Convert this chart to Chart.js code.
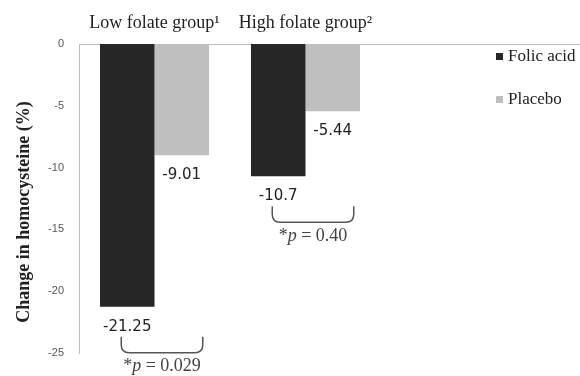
<!DOCTYPE html>
<html>
<head>
<meta charset="utf-8">
<script src="https://cdn.jsdelivr.net/npm/chart.js@4/dist/chart.umd.min.js"></script>
<style>
  html, body { margin: 0; padding: 0; background: #fff; }
  #wrap { width: 580px; height: 376px; }
</style>
</head>
<body>
<div id="wrap"><canvas id="homocysteineChart"></canvas></div>
<script>
const categories = ["Low folate group\u00b9", "High folate group\u00b2"];
const folicAcid = [-21.25, -10.7];
const placebo = [-9.01, -5.44];
const pValues = ["0.029", "0.40"];
const seriesNames = ["Folic acid", "Placebo"];

const serif = "'Liberation Serif', 'Times New Roman', serif";

// value labels, p-value brackets, legend, axis title
const annotate = {
  id: "annotate",
  afterDatasetsDraw(chart) {
    const ctx = chart.ctx;
    const area = chart.chartArea;
    ctx.save();

    // zero line runs on to the right edge
    ctx.strokeStyle = "#bfbfbf";
    ctx.lineWidth = 1;
    ctx.beginPath();
    ctx.moveTo(area.right, area.top + 0.5);
    ctx.lineTo(chart.width, area.top + 0.5);
    ctx.stroke();

    // values under each bar
    ctx.font = "15px 'DejaVu Sans', sans-serif";
    ctx.fillStyle = "#222";
    ctx.textAlign = "center";
    ctx.textBaseline = "middle";
    chart.data.datasets.forEach((ds, di) => {
      chart.getDatasetMeta(di).data.forEach((bar, i) => {
        ctx.fillText(String(ds.data[i]), bar.x, bar.y + 20);
      });
    });

    // brackets with p values
    const fa = chart.getDatasetMeta(0).data;
    const pl = chart.getDatasetMeta(1).data;
    fa.forEach((bar, i) => {
      const left = bar.x - 6;
      const right = pl[i].x + 21;
      const top = bar.y + 30;
      const bottom = top + 16;
      ctx.strokeStyle = "#555";
      ctx.lineWidth = 1.5;
      ctx.beginPath();
      ctx.moveTo(left, top);
      ctx.lineTo(left, bottom - 8);
      ctx.quadraticCurveTo(left, bottom, left + 8, bottom);
      ctx.lineTo(right - 8, bottom);
      ctx.quadraticCurveTo(right, bottom, right, bottom - 8);
      ctx.lineTo(right, top);
      ctx.stroke();

      const parts = [
        ["*", "18px " + serif],
        ["p", "italic 18px " + serif],
        [" = " + pValues[i], "18px " + serif],
      ];
      let total = 0;
      parts.forEach(([t, f]) => { ctx.font = f; total += ctx.measureText(t).width; });
      let x = (left + right) / 2 - total / 2;
      ctx.fillStyle = "#444";
      ctx.textAlign = "left";
      parts.forEach(([t, f]) => {
        ctx.font = f;
        ctx.fillText(t, x, bottom + 14);
        x += ctx.measureText(t).width;
      });
    });

    // legend
    const legendY = [57, 100];
    ctx.font = "17px " + serif;
    ctx.textAlign = "left";
    ctx.textBaseline = "middle";
    chart.data.datasets.forEach((ds, di) => {
      ctx.fillStyle = ds.backgroundColor;
      ctx.fillRect(496, legendY[di] - 4, 7, 7);
      ctx.fillStyle = "#222";
      ctx.fillText(ds.label, 508, legendY[di]);
    });

    // y axis title
    ctx.translate(24, 212);
    ctx.rotate(-Math.PI / 2);
    ctx.font = "bold 18px " + serif;
    ctx.textAlign = "center";
    ctx.fillStyle = "#222";
    ctx.fillText("Change in homocysteine (%)", 0, 0);

    ctx.restore();
  },
};

new Chart(document.getElementById("homocysteineChart"), {
  type: "bar",
  data: {
    labels: categories,
    datasets: [
      { label: seriesNames[0], data: folicAcid, backgroundColor: "#262626" },
      { label: seriesNames[1], data: placebo, backgroundColor: "#bfbfbf" },
    ],
  },
  options: {
    responsive: true,
    maintainAspectRatio: false,
    animation: false,
    layout: { padding: { left: 0, right: 199, top: 0, bottom: 23 } },
    datasets: { bar: { categoryPercentage: 0.722, barPercentage: 1 } },
    plugins: { legend: { display: false }, tooltip: { enabled: false } },
    scales: {
      x: {
        position: "top",
        grid: { display: false, drawTicks: false },
        border: { color: "#bfbfbf" },
        ticks: { color: "#222", font: { family: serif, size: 18 }, padding: 10 },
        afterFit(scale) { scale.height = 44; },
      },
      y: {
        min: -25,
        max: 0,
        grid: { display: false, drawTicks: false },
        border: { color: "#bfbfbf" },
        ticks: {
          stepSize: 5,
          color: "#555",
          font: { family: "'Liberation Sans', sans-serif", size: 11 },
          padding: 15,
        },
        afterFit(scale) { scale.width = 79; },
      },
    },
  },
  plugins: [annotate],
});
</script>
</body>
</html>
